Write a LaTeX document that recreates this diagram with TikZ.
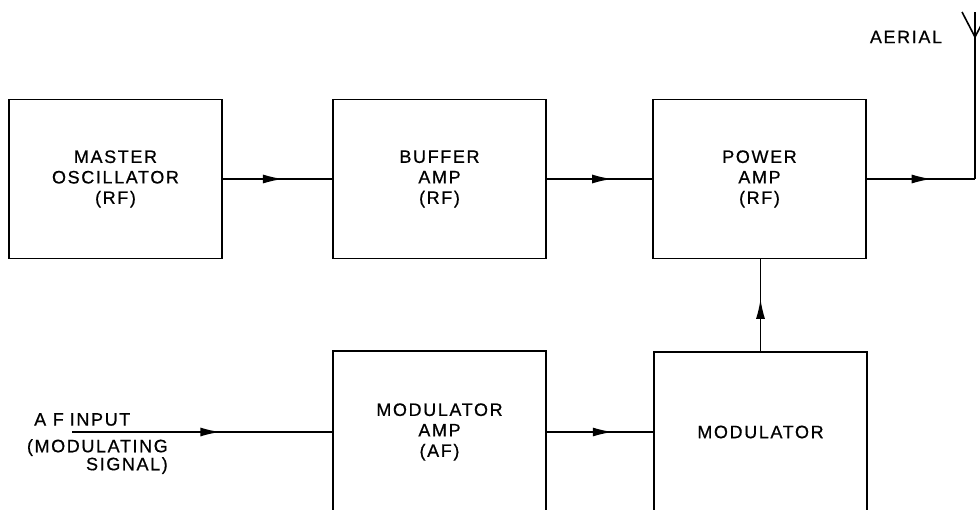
\documentclass[tikz,border=0pt]{standalone}
\usepackage{fontspec}
\setmainfont{Liberation Sans}
\newfontfamily\blockfont[LetterSpace=9,FakeBold=0.6]{Liberation Sans}
\usetikzlibrary{arrows.meta, positioning, decorations.markings}

\tikzset{
  block/.style={draw, line width=1.6pt, minimum width=213pt, minimum height=159pt,
    inner sep=0pt, align=center, font=\blockfont\fontsize{18}{20.5}\selectfont},
  lbl/.style={inner sep=0pt, align=right, font=\blockfont\fontsize{18}{18}\selectfont},
  midarrow/.style={line width=1.6pt, postaction={decorate},
    decoration={markings, mark=at position #1 with {\arrow{Latex[length=20pt,width=9pt]}}}},
  midarrow/.default=0.55,
}

\begin{document}
\begin{tikzpicture}[x=1pt, y=-1pt]
  \useasboundingbox (0,0) rectangle (980,509);
  \clip (0,0) rectangle (980,509);
  % RF chain
  \node[block] (mo) at (115.5,179) {MASTER\\OSCILLATOR\\(RF)};
  \node[block] (ba) at (439.5,179) {BUFFER\\AMP\\(RF)};
  \node[block] (pa) at (759.5,179) {POWER\\AMP\\(RF)};
  % AF chain (runs off the bottom edge)
  \node[block, minimum height=162pt] (ma) at (439.5,432) {MODULATOR\\AMP\\(AF)};
  \node[block, minimum height=160pt] (mod) at (760.5,432) {MODULATOR};
  % Aerial
  \coordinate (aerialtop) at (975,12);
  \coordinate (aerialtip) at (975,37);
  \draw[line width=1.6pt] (962,12) -- (aerialtip) -- (988,12);
  \node[lbl] (aeriallbl) at (906,37) {AERIAL};
  % AF input
  \coordinate (afin) at (72,432);
  \node[lbl, anchor=south west] (aflbl) at (34,426) {A F\hspace{6pt}INPUT};
  \node[lbl, anchor=north east] (modsig) at (168,439) {(MODULATING\\SIGNAL)};
  % Connectors
  \draw[midarrow=0.55] (mo.east) -- (ba.west);
  \draw[midarrow=0.62] (ba.east) -- (pa.west);
  \draw[midarrow=0.6] (pa.east) -- (pa.east -| aerialtop) coordinate (feed);
  \draw[line width=1.6pt] (feed) -- (aerialtop);
  \draw[midarrow=0.57] (mod.north) -- (mod.north |- pa.south);
  \draw[midarrow=0.57] (afin) -- (afin -| ma.west);
  \draw[midarrow=0.62] (ma.east |- mod.west) -- (mod.west);
\end{tikzpicture}
\end{document}
